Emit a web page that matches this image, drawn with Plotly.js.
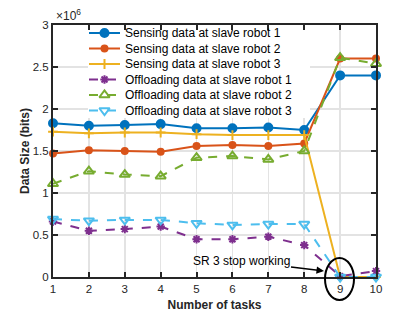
<!DOCTYPE html>
<html><head><meta charset="utf-8">
<script src="https://cdn.plot.ly/plotly-3.0.1.min.js"></script>
<style>html,body{margin:0;padding:0;background:#fff}#plot{width:415px;height:312px}</style>
</head><body><div id="plot"></div>
<script>
var tasks = [1,2,3,4,5,6,7,8,9,10];
// values in units of 10^6 bits
var sensing1 = [1.83,1.80,1.81,1.82,1.77,1.77,1.78,1.75,2.40,2.40];
var sensing2 = [1.47,1.51,1.50,1.49,1.56,1.57,1.56,1.59,2.60,2.60];
var sensing3 = [1.73,1.71,1.72,1.72,1.70,1.69,1.69,1.69,0,0];
var offload1 = [0.66,0.55,0.57,0.60,0.45,0.45,0.48,0.38,0.01,0.07];
var offload2 = [1.11,1.26,1.22,1.20,1.42,1.44,1.40,1.50,2.61,2.54];
var offload3 = [0.69,0.67,0.68,0.68,0.64,0.62,0.63,0.63,0,0];
var names = ['Sensing data at slave robot 1','Sensing data at slave robot 2','Sensing data at slave robot 3',
             'Offloading data at slave robot 1','Offloading data at slave robot 2','Offloading data at slave robot 3'];
var xTickVals = [1,2,3,4,5,6,7,8,9,10];
var yTickVals = [0,0.5,1,1.5,2,2.5,3];
var yTickText = ['0','0.5','1','1.5','2','2.5','3'];

var series = [sensing1,sensing2,sensing3,offload1,offload2,offload3];
var colors = ['#0072BD','#D95319','#EDB120','#7E2F8E','#77AC30','#4DBEEE'];
var dashes = ['solid','solid','solid','dash','dash','dash'];
var syms = ['circle','circle','cross-thin','asterisk-open','triangle-up-open','triangle-down-open'];
var sizes = [8,6,7,7,9,9];

var W=415,H=312,L=53,R=376,T=25,B=277;
var XR=[1,10], YR=[0,3];
function dx(p){return XR[0]+(p-L)/(R-L)*(XR[1]-XR[0]);}
function dy(p){return YR[0]+(B-p)/(B-T)*(YR[1]-YR[0]);}

var traces = series.map(function(s,i){
  return {x:tasks, y:s, name:names[i], type:'scatter', mode:'lines+markers',
    line:{color:colors[i], width:2, dash:dashes[i]},
    marker:{symbol:syms[i], size:sizes[i], color:colors[i], line:{color:colors[i], width:2}},
    cliponaxis:false, showlegend:false};
});

// custom legend (compact rows like the reference)
var legRowTop=33, legRowGap=15.5, legX0=89, legX1=120, legTextX=123;
var annotations=[];
series.forEach(function(s,i){
  var yy=dy(legRowTop+i*legRowGap);
  traces.push({x:[dx(legX0),dx((legX0+legX1)/2),dx(legX1)], y:[yy,yy,yy], type:'scatter', mode:'lines+markers',
    line:{color:colors[i], width:2, dash:dashes[i]},
    marker:{symbol:syms[i], size:sizes[i], color:colors[i], opacity:[0,1,0], line:{color:colors[i], width:2}},
    cliponaxis:false, showlegend:false, hoverinfo:'skip'});
  annotations.push({x:dx(legTextX), y:yy, xref:'x', yref:'y', text:names[i], showarrow:false,
    xanchor:'left', yanchor:'middle', font:{size:12, color:'#000'}});
});
annotations.push({xref:'paper', yref:'paper', x:(54-L)/(R-L), y:(B-15)/(B-T), text:'×10<sup>6</sup>', showarrow:false,
  xanchor:'left', yanchor:'middle', font:{size:12, color:'#262626'}});
annotations.push({x:dx(324), y:dy(271), xref:'x', yref:'y', text:'SR 3 stop working', showarrow:true, arrowhead:2,
  arrowsize:1, arrowwidth:1.5, arrowcolor:'#000', ax:-83, ay:-10, font:{size:12, color:'#000'}, standoff:0});

var layout = {
  width:W, height:H,
  margin:{l:L, r:W-R, t:T, b:H-B, pad:0},
  paper_bgcolor:'#fff', plot_bgcolor:'#fff',
  font:{family:'Liberation Sans, Arial, sans-serif', size:11.5, color:'#262626'},
  showlegend:false,
  xaxis:{range:XR, tickvals:xTickVals, showgrid:true, gridcolor:'#e3e3e3', gridwidth:1.5,
    zeroline:false, showline:true, linecolor:'#262626', linewidth:2, mirror:'ticks',
    ticks:'inside', ticklen:5, tickwidth:2, tickcolor:'#262626', tickfont:{size:11.5},
    title:{text:'<b>Number of tasks</b>', font:{size:12, color:'#262626'}, standoff:8}},
  yaxis:{range:YR, tickvals:yTickVals, ticktext:yTickText, showgrid:true, gridcolor:'#e3e3e3', gridwidth:1.5,
    zeroline:false, showline:true, linecolor:'#262626', linewidth:2, mirror:'ticks',
    ticks:'inside', ticklen:5, tickwidth:2, tickcolor:'#262626', tickfont:{size:11.5},
    title:{text:'<b>Data Size (bits)</b>', font:{size:12, color:'#262626'}, standoff:1}},
  annotations:annotations,
  shapes:[
    {type:'rect', xref:'x', yref:'y', x0:dx(88), x1:dx(310), y0:dy(118), y1:dy(27), layer:'between',
     line:{width:0}, fillcolor:'#fff'},
    {type:'circle', xref:'paper', yref:'paper', x0:(325-L)/(R-L), x1:(354-L)/(R-L), y0:(B-300)/(B-T), y1:(B-258)/(B-T),
     line:{color:'#000', width:2}, fillcolor:'rgba(0,0,0,0)'}
  ]
};
Plotly.newPlot('plot', traces, layout, {staticPlot:true});
</script></body></html>
